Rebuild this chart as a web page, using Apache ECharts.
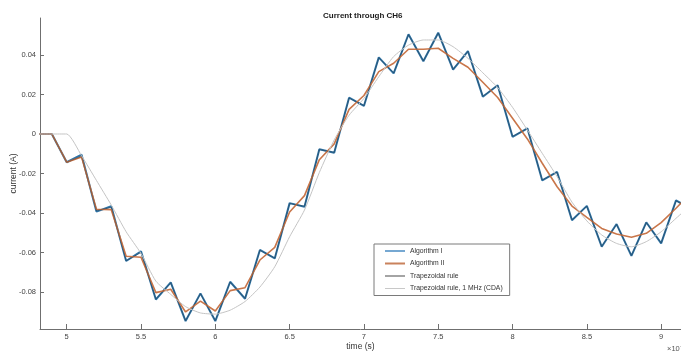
<!DOCTYPE html>
<html>
<head>
<meta charset="utf-8">
<script src="https://cdn.jsdelivr.net/npm/echarts@6/dist/echarts.min.js"></script>
<style>html,body{margin:0;padding:0;background:#fff;}#c{width:681px;height:356px;}</style>
</head>
<body>
<div id="c"></div>
<script>
// time (×10^-7 s)
var times = [4.8,4.9,5.0,5.1,5.2,5.3,5.4,5.5,5.6,5.7,5.8,5.9,6.0,6.1,6.2,6.3,6.4,6.5,6.6,6.7,6.8,6.9,7.0,7.1,7.2,7.3,7.4,7.5,7.6,7.7,7.8,7.9,8.0,8.1,8.2,8.3,8.4,8.5,8.6,8.7,8.8,8.9,9.0,9.1,9.2];
var algorithmI = [0,0,-0.0143,-0.0105,-0.0393,-0.0366,-0.0643,-0.0594,-0.0838,-0.0751,-0.0947,-0.0807,-0.0947,-0.0748,-0.0834,-0.0587,-0.0630,-0.0350,-0.0368,-0.0077,-0.0095,0.0184,0.0142,0.0388,0.0307,0.0505,0.0368,0.0513,0.0326,0.0420,0.0189,0.0247,-0.0014,0.0029,-0.0235,-0.0192,-0.0437,-0.0364,-0.0571,-0.0456,-0.0617,-0.0447,-0.0554,-0.0336,-0.0380];
var algorithmII = [0,0,-0.0143,-0.0117,-0.0381,-0.0383,-0.0619,-0.0624,-0.0803,-0.0786,-0.0901,-0.0846,-0.0896,-0.0793,-0.0778,-0.0638,-0.0574,-0.0395,-0.0312,-0.0130,-0.0050,0.0125,0.0195,0.0316,0.0358,0.0429,0.0429,0.0434,0.0383,0.0338,0.0262,0.0185,0.0080,-0.0025,-0.0148,-0.0267,-0.0365,-0.0422,-0.0478,-0.0506,-0.0523,-0.0503,-0.0449,-0.0376,-0.0300];
var trapezoidal = [0,0,-0.0143,-0.0113,-0.0388,-0.0372,-0.0641,-0.0600,-0.0836,-0.0753,-0.0945,-0.0809,-0.0945,-0.0750,-0.0832,-0.0589,-0.0628,-0.0352,-0.0366,-0.0079,-0.0093,0.0182,0.0144,0.0386,0.0309,0.0503,0.0370,0.0511,0.0328,0.0418,0.0191,0.0245,-0.0012,0.0027,-0.0233,-0.0194,-0.0435,-0.0366,-0.0569,-0.0458,-0.0615,-0.0449,-0.0552,-0.0338,-0.0378];
var cda1MHz = [0,0,0,-0.0110,-0.0235,-0.0360,-0.0495,-0.0605,-0.0745,-0.0812,-0.0874,-0.0906,-0.0912,-0.0892,-0.0848,-0.0775,-0.0672,-0.0520,-0.0385,-0.0195,-0.0030,0.0095,0.0180,0.0290,0.0392,0.0450,0.0476,0.0476,0.0442,0.0383,0.0310,0.0235,0.0135,0.0020,-0.0098,-0.0216,-0.0345,-0.0440,-0.0511,-0.0554,-0.0571,-0.0545,-0.0495,-0.0427,-0.0360];
var xTicks = [5,5.5,6,6.5,7,7.5,8,8.5,9];
var yTicks = [-0.08,-0.06,-0.04,-0.02,0,0.02,0.04];
var seriesNames = ['Algorithm I','Algorithm II','Trapezoidal rule','Trapezoidal rule, 1 MHz (CDA)'];

function pairs(v){ return times.map(function(t,i){ return [t, v[i]]; }); }
// thin horizontal line icon spanning the full item box (degenerate corners keep the box height)
function lineIcon(th){
  var a = (8 - th)/2, b = a + th;
  return 'path://M0,0L0.05,0L0.05,0.05Z M0,' + a + 'L20,' + a + 'L20,' + b + 'L0,' + b + 'Z M19.95,8L20,8L20,7.95Z';
}
var FONT = 'Liberation Sans, Arial, sans-serif';
var axisColor = '#6f6f6f';
var colors = ['#2f73a5','#c9764a','#2a2a2a','#c4c4c4'];
var chart = echarts.init(document.getElementById('c'), null, {renderer:'canvas'});
chart.setOption({
  animation:false,
  backgroundColor:'#ffffff',
  title:{text:'Current through CH6', left:318, top:7,
    textStyle:{fontFamily:FONT, fontSize:8, fontWeight:'bold', color:'#1a1a1a'}},
  grid:{left:40, top:18, right:0, bottom:27, containLabel:false, outerBoundsMode:'none'},
  legend:{orient:'vertical', left:374, top:244, padding:[3,7,3,11], itemWidth:20, itemHeight:8, itemGap:4.5,
    borderColor:'#7a7a7a', borderWidth:1, backgroundColor:'#ffffff',
    textStyle:{fontFamily:FONT, fontSize:6.8, color:'#333'},
    data:[{name:seriesNames[0], icon:lineIcon(1.4), itemStyle:{color:'#4a8cc4'}},
          {name:seriesNames[1], icon:lineIcon(2), itemStyle:{color:'#c9825c'}},
          {name:seriesNames[2], icon:lineIcon(1), itemStyle:{color:'#4a4a4a'}},
          {name:seriesNames[3], icon:lineIcon(1), itemStyle:{color:'#c8c8c8'}}]},
  xAxis:{type:'value', min:4.8203, max:9.1336, name:'time (s)', nameLocation:'middle', nameGap:13,
    nameMoveOverlap:false,
    nameTextStyle:{fontFamily:FONT, fontSize:8.5, color:'#333'},
    axisLine:{onZero:false, lineStyle:{color:axisColor, width:1}},
    axisTick:{inside:true, length:5, customValues:xTicks, lineStyle:{color:axisColor}},
    axisLabel:{customValues:xTicks, margin:4, fontFamily:FONT, fontSize:7.5, color:'#444'},
    splitLine:{show:false}},
  yAxis:{type:'value', min:-0.09873, max:0.05873, name:'current (A)', nameLocation:'middle', nameGap:22,
    nameMoveOverlap:false,
    nameTextStyle:{fontFamily:FONT, fontSize:8.5, color:'#333'},
    axisLine:{show:true, onZero:false, lineStyle:{color:axisColor, width:1}},
    axisTick:{show:true, inside:true, length:4, customValues:yTicks, lineStyle:{color:axisColor}},
    axisLabel:{customValues:yTicks, margin:4, fontFamily:FONT, fontSize:7.5, color:'#444',
      formatter:function(v){ return String(Math.round(v*100)/100); }},
    splitLine:{show:false}},
  graphic:[{type:'text', left:667, top:345, style:{text:'×10⁻⁷', fontFamily:FONT, fontSize:7.5, fill:'#555'}}],
  series:[
    {name:seriesNames[0], type:'line', data:pairs(algorithmI), symbol:'none', color:colors[0],
      lineStyle:{width:2, color:colors[0]}, z:2},
    {name:seriesNames[1], type:'line', data:pairs(algorithmII), symbol:'none', color:colors[1],
      lineStyle:{width:1.6, color:colors[1]}, z:3},
    {name:seriesNames[2], type:'line', data:pairs(trapezoidal), symbol:'none', color:colors[2],
      lineStyle:{width:0.6, color:'rgba(35,35,35,0.55)'}, z:4},
    {name:seriesNames[3], type:'line', data:pairs(cda1MHz), symbol:'none', smooth:0.2, color:colors[3],
      lineStyle:{width:1, color:colors[3]}, z:5}
  ]
});
</script>
</body>
</html>
